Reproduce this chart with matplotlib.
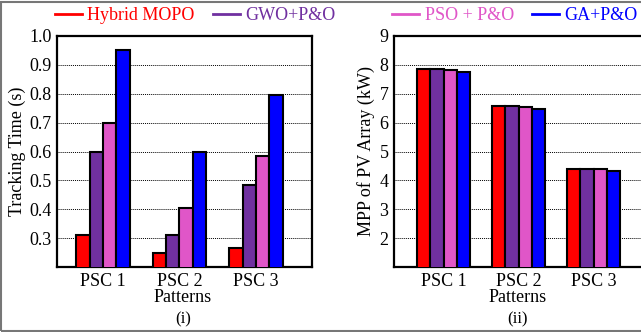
import matplotlib
matplotlib.use("Agg")
import matplotlib.pyplot as plt
from matplotlib.lines import Line2D
from matplotlib.patches import Rectangle
import numpy as np

plt.rcParams['font.family'] = ['Liberation Serif', 'DejaVu Serif']
plt.rcParams['font.size'] = 13

categories = ["PSC 1", "PSC 2", "PSC 3"]
methods = ["Hybrid MOPO", "GWO+P&O", "PSO + P&O", "GA+P&O"]
colors = ["#FF0000", "#7030A0", "#E056C8", "#0000FF"]

tracking_time = {
    "Hybrid MOPO": [0.31, 0.25, 0.265],
    "GWO+P&O":     [0.60, 0.31, 0.485],
    "PSO + P&O":   [0.70, 0.405, 0.585],
    "GA+P&O":      [0.95, 0.60, 0.795],
}
mpp_power = {
    "Hybrid MOPO": [7.86, 6.58, 4.39],
    "GWO+P&O":     [7.84, 6.57, 4.38],
    "PSO + P&O":   [7.82, 6.55, 4.39],
    "GA+P&O":      [7.77, 6.48, 4.34],
}
left_yticks = [0.3, 0.4, 0.5, 0.6, 0.7, 0.8, 0.9, 1.0]
right_yticks = [2, 3, 4, 5, 6, 7, 8, 9]

W, H = 641, 332
fig = plt.figure(figsize=(W / 100, H / 100), dpi=100)

def px_axes(x0, x1, ytop, ybot):
    return fig.add_axes([x0 / W, 1 - ybot / H, (x1 - x0) / W, (ybot - ytop) / H])

ax1 = px_axes(57, 312, 36, 267)
ax2 = px_axes(394, 643, 36, 267)

x = np.arange(1, len(categories) + 1)
bw = 0.175
offsets = [-1.5, -0.5, 0.5, 1.5]

def draw(ax, data, ylim, yticks, fmt, xlim, ylabel, lpad):
    for m, c, o in zip(methods, colors, offsets):
        ax.bar(x + o * bw, data[m], width=bw, color=c, edgecolor="black",
               linewidth=1.5, zorder=3)
    ax.set_ylim(*ylim)
    ax.set_xlim(*xlim)
    ax.set_yticks(yticks)
    ax.set_yticklabels([fmt(v) for v in yticks])
    ax.set_xticks(x)
    ax.set_xticklabels(categories)
    ax.tick_params(length=0, pad=4, labelsize=13)
    ax.yaxis.grid(True, linestyle=(0, (1, 1)), color="black", linewidth=0.7, zorder=0)
    ax.set_axisbelow(True)
    for s in ax.spines.values():
        s.set_linewidth(1.6)
    ax.set_ylabel(ylabel, fontsize=13, labelpad=lpad)

draw(ax1, tracking_time, (0.2, 1.0), left_yticks, lambda v: f"{v:.1f}",
     (0.399, 3.732), "Tracking Time (s)", 2)
draw(ax2, mpp_power, (1, 9), right_yticks, lambda v: f"{v:d}",
     (0.34, 3.66), "MPP of PV Array (kW)", 3)
ax2.spines["right"].set_visible(False)

fig.text(183 / W, 1 - 298 / H, "Patterns", ha="center", va="center", fontsize=13)
fig.text(518 / W, 1 - 298 / H, "Patterns", ha="center", va="center", fontsize=13)
fig.text(183 / W, 1 - 319 / H, "(i)", ha="center", va="center", fontsize=12)
fig.text(518 / W, 1 - 319 / H, "(ii)", ha="center", va="center", fontsize=12)

# legends
def make_leg(idx, cx):
    handles = [Line2D([0], [0], color=colors[i], lw=2) for i in idx]
    labels = [methods[i] for i in idx]
    leg = fig.legend(handles, labels, loc="center", bbox_to_anchor=(cx / W, 1 - 16 / H),
                     ncol=2, frameon=False, fontsize=13, handlelength=1.5,
                     handletextpad=0.3, columnspacing=1.0,
                     labelcolor=[colors[i] for i in idx])
    return leg

make_leg([0, 1], 195)
make_leg([2, 3], 515)

# figure border
fig.patches.append(Rectangle((1 / W, 1 / H), 1.2, 1 - 2.5 / H, transform=fig.transFigure,
                             fill=False, edgecolor="#777777", linewidth=1.5))

fig.savefig("out.png", dpi=100)
